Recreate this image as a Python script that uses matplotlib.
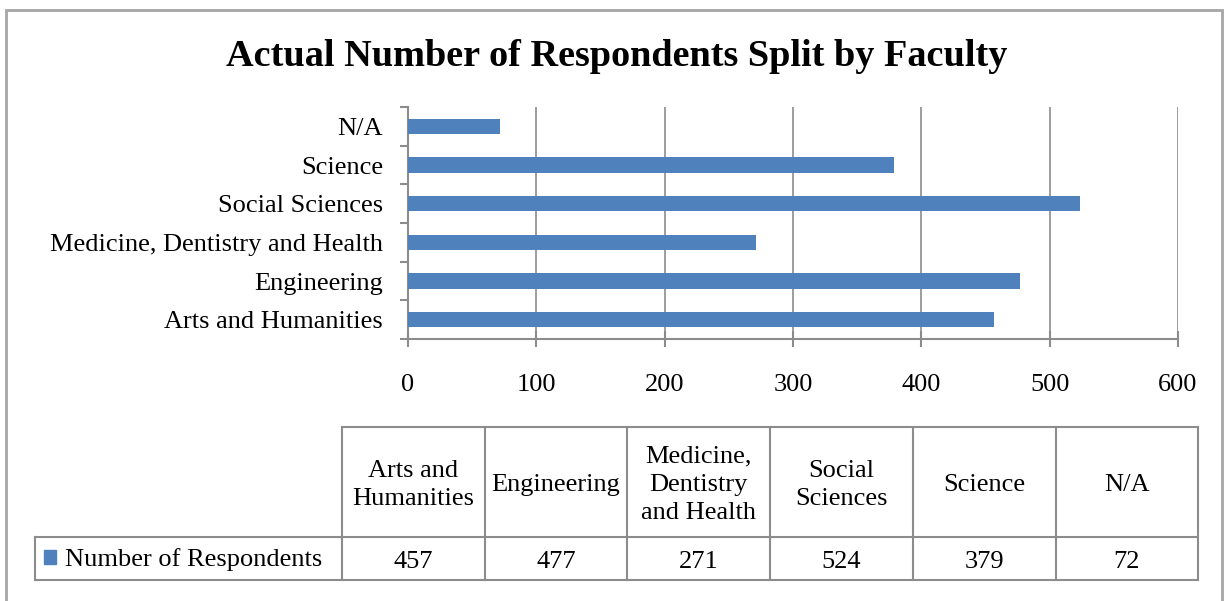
import textwrap
import matplotlib.pyplot as plt
from matplotlib.patches import Rectangle

# data
faculties = ["Arts and Humanities", "Engineering", "Medicine, Dentistry and Health",
             "Social Sciences", "Science", "N/A"]
respondents = [457, 477, 271, 524, 379, 72]
series_name = "Number of Respondents"
x_ticks = [0, 100, 200, 300, 400, 500, 600]

bar_color = "#4F81BD"
grid_color = "#8C8C8C"
plt.rcParams["font.family"] = ["Liberation Serif", "DejaVu Serif"]

W, H = 1225, 601
fig = plt.figure(figsize=(W / 100, H / 100), dpi=100)

def fx(px):
    return px / W

def fy(py):
    return 1 - py / H

# outer chart frame
fig.patches.append(Rectangle((fx(6), fy(640)), fx(1222) - fx(6), fy(10) - fy(640),
                             transform=fig.transFigure, fill=False,
                             edgecolor="#A6A6A6", linewidth=2))

fig.text(fx(617), fy(56), "Actual Number of Respondents Split by Faculty",
         ha="center", va="center", fontsize=27.5, fontweight="bold")

# bar chart
ax = fig.add_axes([fx(408), fy(339), fx(1178) - fx(408), fy(107) - fy(339)])
ypos = list(range(len(faculties)))
ax.barh(ypos, respondents, height=0.4, color=bar_color, zorder=3)
ax.set_xlim(x_ticks[0], x_ticks[-1])
ax.set_ylim(-0.5, len(faculties) - 0.5)
ax.set_xticks(x_ticks)
ax.set_xticklabels([str(t) for t in x_ticks], fontsize=19)
ax.set_yticks(ypos)
ax.set_yticklabels(faculties, fontsize=19)
ax.set_yticks([i - 0.5 for i in range(len(faculties) + 1)], minor=True)
ax.tick_params(axis="y", which="major", length=0, pad=18)
ax.tick_params(axis="y", which="minor", length=6, width=1.5, color=grid_color, direction="out")
ax.tick_params(axis="x", which="major", length=11, width=1.5, color=grid_color,
               direction="inout", pad=20)
ax.grid(axis="x", color=grid_color, linewidth=1.2, zorder=0)
for side in ["top", "right"]:
    ax.spines[side].set_visible(False)
for side in ["left", "bottom"]:
    ax.spines[side].set_color(grid_color)
    ax.spines[side].set_linewidth(1.5)

# data table below (drawn in pixel-like units)
label_w, col_w = 307, 142.7
head_h, row_h = 110, 43
tw = label_w + col_w * len(faculties)
tax = fig.add_axes([fx(35), fy(580), fx(35 + tw) - fx(35), fy(427) - fy(580)])
tax.set_xlim(0, tw)
tax.set_ylim(head_h + row_h, 0)
tax.axis("off")
lc = dict(color=grid_color, linewidth=1.5, clip_on=False)
tax.plot([label_w, tw], [0, 0], **lc)
tax.plot([0, tw], [head_h, head_h], **lc)
tax.plot([0, tw], [head_h + row_h, head_h + row_h], **lc)
tax.plot([0, 0], [head_h, head_h + row_h], **lc)
for i in range(len(faculties) + 1):
    x = label_w + i * col_w
    tax.plot([x, x], [0, head_h + row_h], **lc)
for i, (f, v) in enumerate(zip(faculties, respondents)):
    xc = label_w + (i + 0.5) * col_w
    tax.text(xc, head_h / 2 + 3, textwrap.fill(f, 10, break_long_words=False),
             ha="center", va="center", fontsize=19, linespacing=1.38)
    tax.text(xc, head_h + row_h / 2 + 3, str(v), ha="center", va="center", fontsize=19)
tax.add_patch(Rectangle((9, head_h + 13), 12, 14, color=bar_color, clip_on=False))
tax.text(30, head_h + row_h / 2 + 1, series_name, ha="left", va="center", fontsize=19)

fig.savefig("out.png", dpi=100)
